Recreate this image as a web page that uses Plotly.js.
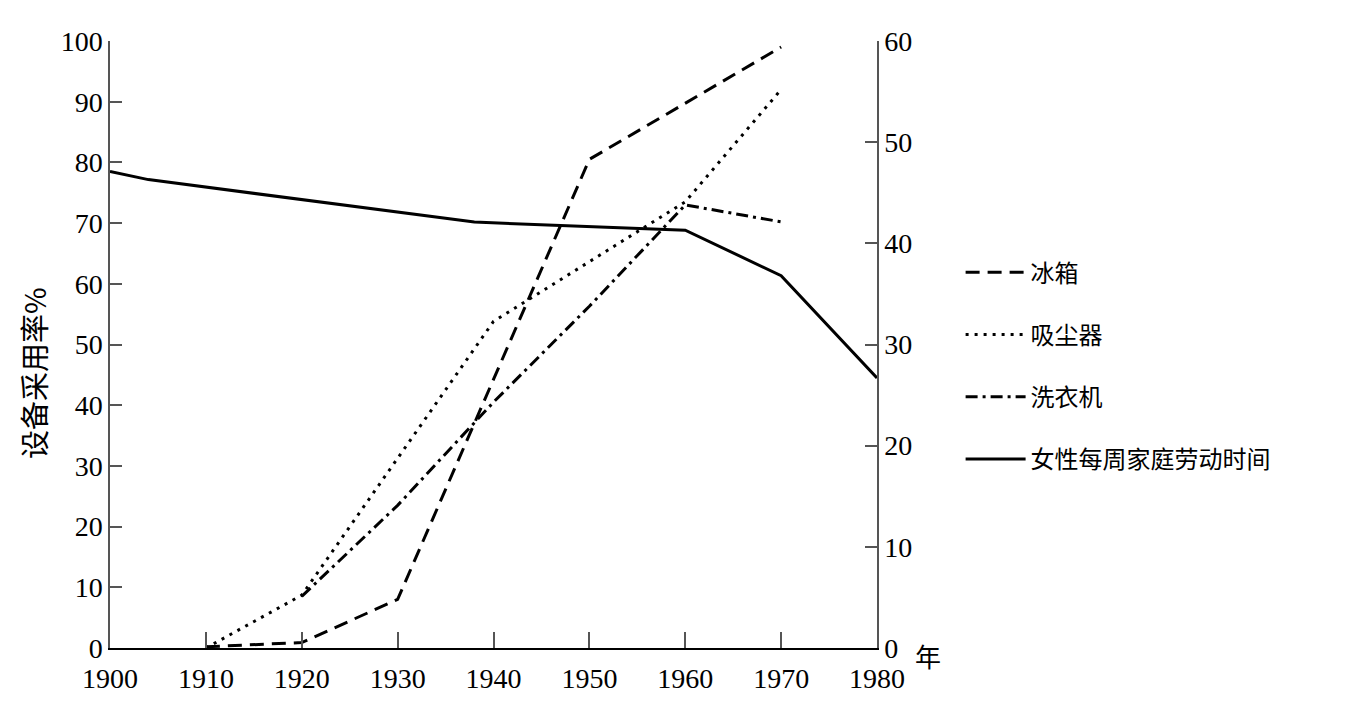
<!DOCTYPE html>
<html lang="zh">
  <head>
    <meta charset="UTF-8" />
    <title>设备采用率与女性每周家庭劳动时间</title>
    <script src="https://cdn.plot.ly/plotly-3.0.1.min.js"></script>
    <style>
      body {
        margin: 0;
        background: #fff;
      }
      #chart {
        width: 1357px;
        height: 703px;
      }
    </style>
  </head>
  <body>
    <div id="chart"></div>
    <script>
      // 设备采用率 (%)，左轴
      const fridgeYears = [1910, 1920, 1930, 1950, 1970];
      const fridgeRate = [0.2, 0.9, 8, 80.5, 99];

      const vacuumYears = [1910, 1920, 1940, 1960, 1970];
      const vacuumRate = [0, 8.7, 53.8, 73.5, 92];

      const washerYears = [1920, 1930, 1940, 1950, 1960, 1970];
      const washerRate = [8.5, 23.5, 40.5, 56.3, 73, 70.2];

      // 女性每周家庭劳动时间 (小时)，右轴
      const houseworkYears = [1900, 1904, 1938, 1960, 1970, 1980];
      const houseworkHours = [47.1, 46.3, 42.1, 41.3, 36.8, 26.7];

      const names = ["冰箱", "吸尘器", "洗衣机", "女性每周家庭劳动时间"];
      const xTicks = [1900, 1910, 1920, 1930, 1940, 1950, 1960, 1970, 1980];

      const serif = '"Liberation Serif", "Times New Roman", serif';
      const cjk = '"Noto Sans CJK SC", "Liberation Serif", serif';

      const traces = [
        {
          x: fridgeYears,
          y: fridgeRate,
          name: names[0],
          legendgroup: "a",
          mode: "lines",
          line: { color: "#000", width: 3, dash: "14px,8px" },
        },
        {
          x: vacuumYears,
          y: vacuumRate,
          name: names[1],
          legendgroup: "b",
          mode: "lines",
          line: { color: "#000", width: 3, dash: "3px,6px" },
        },
        {
          x: washerYears,
          y: washerRate,
          name: names[2],
          legendgroup: "c",
          mode: "lines",
          line: { color: "#000", width: 3, dash: "12px,5px,3px,5px" },
        },
        {
          x: houseworkYears,
          y: houseworkHours,
          name: names[3],
          legendgroup: "d",
          yaxis: "y2",
          mode: "lines",
          line: { color: "#000", width: 3 },
        },
      ];

      const axisCommon = {
        showgrid: false,
        zeroline: false,
        showline: true,
        linecolor: "#555",
        linewidth: 1.5,
        ticks: "inside",
        tickcolor: "#555",
        tickwidth: 1.5,
        tickfont: { family: serif, size: 28, color: "#000" },
      };

      const layout = {
        width: 1357,
        height: 703,
        margin: { l: 110, r: 480, t: 41, b: 55 },
        paper_bgcolor: "#fff",
        plot_bgcolor: "#fff",
        font: { family: serif, color: "#000" },
        showlegend: true,
        legend: {
          x: 1.109,
          y: 0.465,
          xanchor: "left",
          yanchor: "middle",
          traceorder: "grouped",
          tracegroupgap: 28,
          itemwidth: 60,
          font: { family: cjk, size: 24, color: "#000" },
        },
        xaxis: Object.assign({}, axisCommon, {
          range: [1900, 1980],
          tickvals: xTicks,
          ticklen: 16,
          linecolor: "#000",
          ticklabelstandoff: 5,
        }),
        yaxis: Object.assign({}, axisCommon, {
          range: [0, 100],
          dtick: 10,
          ticklen: 12,
        }),
        yaxis2: Object.assign({}, axisCommon, {
          range: [0, 60],
          dtick: 10,
          ticklen: 12,
          overlaying: "y",
          side: "right",
        }),
        annotations: [
          {
            text: "设备采用率%",
            xref: "paper",
            yref: "paper",
            x: (33 - 110) / 767,
            y: 0.453,
            xanchor: "center",
            yanchor: "middle",
            textangle: -90,
            showarrow: false,
            font: { family: cjk, size: 29, color: "#000" },
          },
          {
            text: "年",
            xref: "paper",
            yref: "paper",
            x: 1.047,
            y: 0,
            xanchor: "left",
            yanchor: "middle",
            yshift: -7,
            showarrow: false,
            font: { family: cjk, size: 26, color: "#000" },
          },
        ],
      };

      Plotly.newPlot("chart", traces, layout, { displayModeBar: false });
    </script>
  </body>
</html>
